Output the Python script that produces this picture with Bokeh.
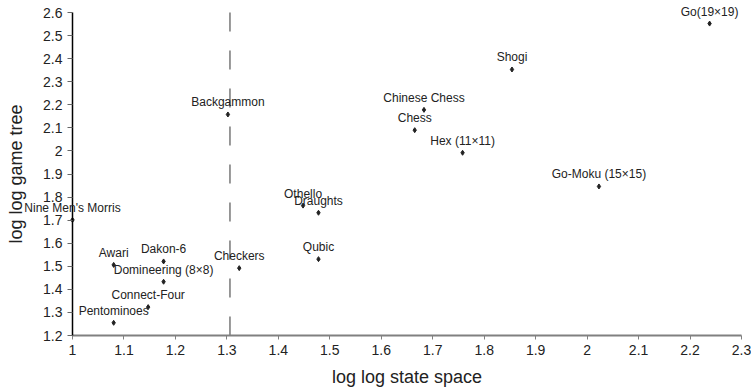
from bokeh.plotting import figure
from bokeh.models import ColumnDataSource, Label, FixedTicker
from bokeh.embed import file_html
from bokeh.resources import INLINE

games = ["Go(19×19)", "Shogi", "Chinese Chess", "Chess", "Hex (11×11)",
         "Go-Moku (15×15)", "Backgammon", "Othello", "Draughts", "Qubic",
         "Checkers", "Nine Men's Morris", "Awari", "Dakon-6",
         "Domineering (8×8)", "Connect-Four", "Pentominoes"]
state_space = [2.238, 1.854, 1.683, 1.665, 1.758, 2.023, 1.302, 1.448, 1.478,
               1.478, 1.324, 1.0, 1.080, 1.177, 1.177, 1.147, 1.080]
game_tree = [2.552, 2.353, 2.178, 2.090, 1.992, 1.846, 2.158, 1.763, 1.732,
             1.531, 1.492, 1.701, 1.506, 1.521, 1.433, 1.323, 1.255]

threshold_x = [1.306]
threshold_top = [2.6]
threshold_bottom = [1.2]

x_ticks = [1.0, 1.1, 1.2, 1.3, 1.4, 1.5, 1.6, 1.7, 1.8, 1.9, 2.0, 2.1, 2.2, 2.3]
x_tick_labels = ["1", "1.1", "1.2", "1.3", "1.4", "1.5", "1.6", "1.7", "1.8",
                 "1.9", "2", "2.1", "2.2", "2.3"]
y_ticks = [1.2, 1.3, 1.4, 1.5, 1.6, 1.7, 1.8, 1.9, 2.0, 2.1, 2.2, 2.3, 2.4, 2.5, 2.6]
y_tick_labels = ["1.2", "1.3", "1.4", "1.5", "1.6", "1.7", "1.8", "1.9", "2",
                 "2.1", "2.2", "2.3", "2.4", "2.5", "2.6"]
x_title = "log log state space"
y_title = "log log game tree"

FONT = "Liberation Sans"
TXT = "#222222"

# Axis extents. The plot frame covers the whole canvas and the axes are
# pinned at fixed locations, so that labels near the edges are not clipped.
X_AXIS = (1.0, 2.3)
Y_AXIS = (1.2, 2.6)
W, H = 751, 387
LEFT_PX, RIGHT_PX, TOP_PX, BOTTOM_PX = 72, 10, 12, 52

x_scale = (W - RIGHT_PX - LEFT_PX) / (X_AXIS[1] - X_AXIS[0])
y_scale = (H - BOTTOM_PX - TOP_PX) / (Y_AXIS[1] - Y_AXIS[0])
x_rng = (X_AXIS[0] - LEFT_PX / x_scale, X_AXIS[1] + RIGHT_PX / x_scale)
y_rng = (Y_AXIS[0] - BOTTOM_PX / y_scale, Y_AXIS[1] + TOP_PX / y_scale)

p = figure(width=W, height=H, output_backend="svg", toolbar_location=None,
           x_range=x_rng, y_range=y_rng, min_border=0)
p.grid.visible = False
p.outline_line_color = None
p.background_fill_color = "white"
p.border_fill_color = "white"

# threshold dashed line
p.segment(x0=threshold_x, y0=threshold_top, x1=threshold_x,
          y1=threshold_bottom, line_color="#555555", line_width=1.2,
          line_dash="19 19")

src = ColumnDataSource(dict(x=state_space, y=game_tree, name=games))
p.scatter("x", "y", source=src, marker="diamond", size=5, color="#222222")

for name, xv, yv in zip(games, state_space, game_tree):
    p.add_layout(Label(x=xv, y=yv, x_units="data", y_units="data", text=name,
                       text_align="center", text_baseline="middle",
                       y_offset=12, text_font=FONT, text_font_size="12px",
                       text_color=TXT))

# axes
p.xaxis.ticker = FixedTicker(ticks=x_ticks)
p.xaxis.major_label_overrides = {t: l for t, l in zip(x_ticks, x_tick_labels)}
p.xaxis.bounds = X_AXIS
p.xaxis.fixed_location = Y_AXIS[0]
p.yaxis.ticker = FixedTicker(ticks=y_ticks)
p.yaxis.major_label_overrides = {t: l for t, l in zip(y_ticks, y_tick_labels)}
p.yaxis.bounds = Y_AXIS
p.yaxis.fixed_location = X_AXIS[0]
p.yaxis.axis_label = y_title

for ax in (p.xaxis[0], p.yaxis[0]):
    ax.minor_tick_line_color = None
    ax.major_tick_in = 0
    ax.major_label_text_font = FONT
    ax.major_label_text_font_size = "14px"
    ax.major_label_text_color = TXT
    ax.axis_label_text_font = FONT
    ax.axis_label_text_font_size = "18px"
    ax.axis_label_text_font_style = "normal"
    ax.axis_label_text_color = TXT

p.xaxis.axis_line_color = "#808080"
p.xaxis.axis_line_width = 2
p.xaxis.major_tick_line_color = "#808080"
p.xaxis.major_tick_out = 4
p.xaxis.major_label_standoff = 5

p.yaxis.axis_line_color = "black"
p.yaxis.axis_line_width = 1.5
p.yaxis.major_tick_line_color = "#666666"
p.yaxis.major_tick_out = 5
p.yaxis.major_label_standoff = 5
p.yaxis.axis_label_standoff = 14

# x-axis title, centred under the axis extent
p.add_layout(Label(x=(LEFT_PX + W - RIGHT_PX) / 2, y=H - 376,
                   x_units="screen", y_units="screen", text=x_title,
                   text_align="center", text_baseline="middle",
                   text_font=FONT, text_font_size="18px", text_color=TXT))

open("out.html", "w").write(file_html(p, INLINE))
